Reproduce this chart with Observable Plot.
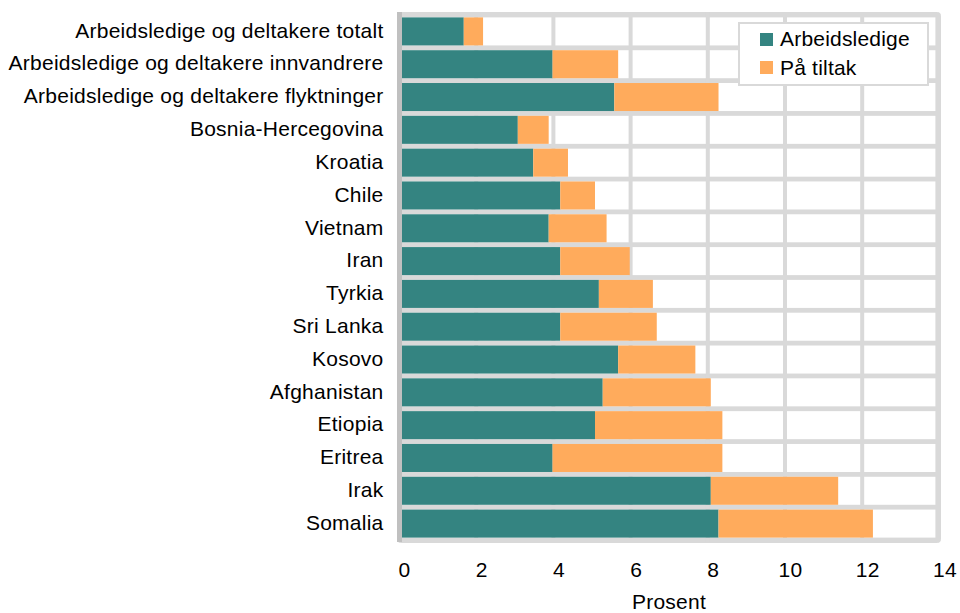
<!DOCTYPE html>
<html>
<head>
<meta charset="utf-8">
<script src="https://cdn.jsdelivr.net/npm/d3@7"></script>
<script src="https://cdn.jsdelivr.net/npm/@observablehq/plot@0.6"></script>
<style>
  html, body { margin: 0; padding: 0; background: #fff; }
  #wrap { position: relative; width: 960px; height: 613px; font-family: "Liberation Sans", Arial, sans-serif; }
  #legend {
    position: absolute; left: 738px; top: 22px; width: 191px; height: 64px;
    box-sizing: border-box; border: 2px solid #d9d9d9; background: #fff;
    padding-top: 0.7px; padding-left: 20px;
  }
  .item { display: flex; align-items: center; height: 28.7px; font-size: 21px; color: #000; letter-spacing: 0.2px; }
  .sw { width: 13px; height: 13px; margin-right: 7px; flex: none; }
</style>
</head>
<body>
<div id="wrap">
  <div id="chart"></div>
  <div id="legend"></div>
</div>
<script>
const categories = [
  "Arbeidsledige og deltakere totalt",
  "Arbeidsledige og deltakere innvandrere",
  "Arbeidsledige og deltakere flyktninger",
  "Bosnia-Hercegovina",
  "Kroatia",
  "Chile",
  "Vietnam",
  "Iran",
  "Tyrkia",
  "Sri Lanka",
  "Kosovo",
  "Afghanistan",
  "Etiopia",
  "Eritrea",
  "Irak",
  "Somalia"
];
const arbeidsledige = [1.6, 3.9, 5.5, 3.0, 3.4, 4.1, 3.8, 4.1, 5.1, 4.1, 5.6, 5.2, 5.0, 3.9, 8.0, 8.2];
const paTiltak      = [0.5, 1.7, 2.7, 0.8, 0.9, 0.9, 1.5, 1.8, 1.4, 2.5, 2.0, 2.8, 3.3, 4.4, 3.3, 4.0];
const seriesNames = ["Arbeidsledige", "På tiltak"];
const seriesColors = ["#348481", "#ffab5c"];
const xTicks = [0, 2, 4, 6, 8, 10, 12, 14];
const xLabel = "Prosent";

const rows = categories.flatMap((c, i) => [
  {cat: c, series: seriesNames[0], value: arbeidsledige[i]},
  {cat: c, series: seriesNames[1], value: paTiltak[i]}
]);

const chart = Plot.plot({
  width: 960,
  height: 613,
  marginLeft: 397,
  marginRight: 20,
  marginTop: 12,
  marginBottom: 71,
  insetLeft: 5,
  insetRight: -2.4,
  insetTop: 3,
  insetBottom: 2,
  style: {fontFamily: "'Liberation Sans', Arial, sans-serif", fontSize: "21px", color: "#000", background: "#fff", letterSpacing: "0.25px"},
  x: {domain: [0, 14]},
  y: {domain: categories, paddingInner: 0.146, paddingOuter: 0.073, round: false},
  color: {domain: seriesNames, range: seriesColors},
  marks: [
    Plot.frame({fill: "#d9d9d9", stroke: "#d9d9d9", rx: 3}),
    Plot.barX(categories, {y: d => d, x1: 0, x2: 14, fill: "#fff", insetRight: 7}),
    Plot.ruleX(xTicks.slice(1, -1), {stroke: "#d9d9d9", strokeWidth: 4, dx: -3.5}),
    Plot.ruleX([0], {stroke: "#c0c0c0", strokeWidth: 5, dx: -3}),
    Plot.barX(rows, {y: "cat", x: "value", fill: "series"}),
    Plot.axisX({ticks: xTicks, tickSize: 0, tickPadding: 20, label: null, dx: 2, fill: "#000"}),
    Plot.axisY({tickSize: 0, tickPadding: 14, label: null, dy: -1, fill: "#000"}),
    Plot.text([xLabel], {text: d => d, frameAnchor: "bottom", lineAnchor: "bottom", dy: 66, fill: "#000"})
  ]
});
document.getElementById("chart").appendChild(chart);

const legend = document.getElementById("legend");
seriesNames.forEach((name, i) => {
  const item = document.createElement("div");
  item.className = "item";
  const sw = document.createElement("span");
  sw.className = "sw";
  sw.style.background = seriesColors[i];
  const label = document.createElement("span");
  label.textContent = name;
  item.appendChild(sw);
  item.appendChild(label);
  legend.appendChild(item);
});
</script>
</body>
</html>
